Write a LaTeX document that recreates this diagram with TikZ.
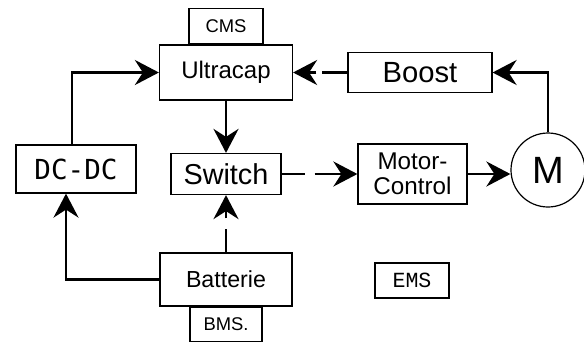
\documentclass[tikz,border=0pt]{standalone}
\usepackage{fontspec}
\setmainfont{Liberation Sans}
\newfontfamily\dcfont{DejaVu Sans Mono}
\newfontfamily\emsfont{Liberation Mono}
\usetikzlibrary{arrows.meta,positioning,shapes}

\tikzset{
  blk/.style={draw, line width=0.6pt, inner sep=0pt},
  flow/.style={->, line width=1.3pt},
}

\begin{document}
\begin{tikzpicture}[x=0.5pt, y=-0.5pt, >={Stealth[length=12pt,width=12.5pt,inset=4pt]}]
	\useasboundingbox (0,0) rectangle (584,343);

	\node[blk, minimum width=66.5pt, minimum height=27.5pt, font=\fontsize{12}{14}\selectfont] (uc) at (226,72.5) {Ultracap};
	\node[blk, minimum width=37pt, minimum height=17.5pt, font=\fontsize{9.2}{11}\selectfont] (cms) [above=0pt of uc] {CMS};
	\node[blk, minimum width=72pt, minimum height=20pt, font=\fontsize{14.6}{16}\selectfont] (boost) at (420,72.5) {Boost};
	\node[blk, minimum width=60pt, minimum height=24pt, font=\dcfont\fontsize{13.8}{15}\selectfont] (dc) at (76,169) {DC-DC};
	\node[blk, minimum width=55pt, minimum height=20.5pt, font=\fontsize{14.4}{16}\selectfont] (sw) at (226,174) {Switch};
	\node[blk, minimum width=54.5pt, minimum height=30pt, align=center, font=\fontsize{12.1}{12.5}\selectfont] (mc) at (412.5,174) {Motor-\\Control};
	\node[draw, circle, line width=0.6pt, inner sep=0pt, minimum size=37pt, font=\fontsize{19}{20}\selectfont] (m) at (548,170) {M};

	\node[blk, minimum width=66pt, minimum height=26.5pt, font=\fontsize{11.6}{13}\selectfont] (bat) at (226,279.5) {Batterie};
	\node[blk, minimum width=36pt, minimum height=17pt, font=\fontsize{9.2}{11}\selectfont] (bms) [below=0pt of bat] {BMS.};
	\node[blk, minimum width=37pt, minimum height=17.5pt, font=\emsfont\fontsize{10.8}{12}\selectfont] (ems) at (412,280.5) {EMS};

	% charging paths
	\draw[flow] ([xshift=-2pt]dc.north) |- (uc.west);
	\draw[flow] (bat.west) -| ([xshift=-5pt]dc.south);
	\draw[flow] (uc.south) -- (sw.north);
	\draw[flow, dash pattern=on 11.5pt off 5.5pt on 60pt] (bat.north) -- (sw.south);

	% drive
	\draw[flow, dash pattern=on 11.5pt off 5pt on 60pt] (sw.east) -- (mc.west);
	\draw[flow] (mc.east) -- (m.west |- mc.east);

	% recuperation
	\draw[flow] (m.north) |- (boost.east);
	\draw[flow, dash pattern=on 12.5pt off 3pt on 60pt] (boost.west) -- (uc.east);
\end{tikzpicture}
\end{document}
